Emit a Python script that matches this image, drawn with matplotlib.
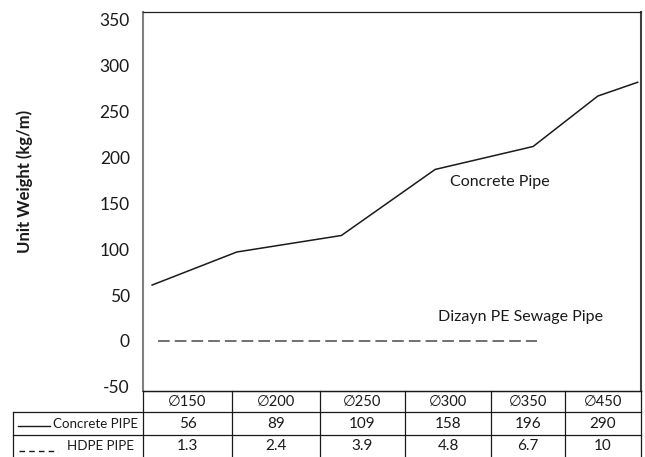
import matplotlib
matplotlib.use("Agg")
import matplotlib.pyplot as plt
from matplotlib.lines import Line2D

plt.rcParams['font.family'] = ['Lato', 'DejaVu Sans']

# ---- data ----
diameters = ["∅150", "∅200", "∅250", "∅300", "∅350", "∅450"]
concrete_table = ["56", "89", "109", "158", "196", "290"]
hdpe_table = ["1.3", "2.4", "3.9", "4.8", "6.7", "10"]
row_labels = ["Concrete PIPE", "HDPE PIPE"]

# plotted concrete curve (positions in column units, values in kg/m)
concrete_x = [0.11, 1.13, 2.39, 3.52, 4.70, 5.48, 5.96]
concrete_y = [61, 97, 115, 187, 212, 267, 282]
# plotted PE line
pe_x = [0.18, 4.75]
pe_y = [0, 0]

yticks = [-50, 0, 50, 100, 150, 200, 250, 300, 350]

W, H = 645, 457
fig = plt.figure(figsize=(W / 100, H / 100), dpi=100)

def fx(px):
    return px / W

def fy(py):
    return 1 - py / H

ax_l, ax_r, ax_t, ax_b = 143, 641, 12, 391
ax = fig.add_axes([fx(ax_l), fy(ax_b), (ax_r - ax_l) / W, (ax_b - ax_t) / H])
ax.set_xlim(0, 6)
ax.set_ylim(-54.5, 358.6)
ax.set_yticks(yticks)
ax.set_yticklabels([str(v) for v in yticks], fontsize=12.5, color='#1a1a1a')
ax.tick_params(axis='y', length=0, pad=9.5)
ax.set_xticks([])
ax.spines['left'].set_color('#808080')
ax.spines['left'].set_linewidth(1.5)
ax.spines['right'].set_color('#404040')
ax.spines['right'].set_linewidth(1.5)
ax.spines['top'].set_color('#202020')
ax.spines['top'].set_linewidth(0.9)
ax.spines['bottom'].set_color('#202020')
ax.spines['bottom'].set_linewidth(0.9)

ax.plot(concrete_x, concrete_y, color='#1a1a1a', lw=1.1)
ax.plot(pe_x, pe_y, color='#707070', lw=1.4, dashes=(6, 2.6))

ax.text(3.70, 173, "Concrete Pipe", fontsize=11.5, color='#1a1a1a', va='center', ha='left')
ax.text(3.55, 26, "Dizayn PE Sewage Pipe", fontsize=11.5, color='#1a1a1a', va='center', ha='left')

fig.text(fx(25), fy(181), "Unit Weight (kg/m)", rotation=90, fontsize=12,
         fontweight='bold', ha='center', va='center', color='#1a1a1a')

# ---- table (drawn on an overlay axes in pixel layout) ----
tax = fig.add_axes([0, 0, 1, 1])
tax.set_xlim(0, W)
tax.set_ylim(H, 0)
tax.axis('off')

col_edges = [143, 232, 320, 405, 491, 565, 641]
row_edges = [391, 412, 435, 457]
lab_left = 13
lc = '#1a1a1a'
lw = 0.9

# horizontal lines
tax.add_line(Line2D([col_edges[0], col_edges[-1]], [row_edges[0]] * 2, color=lc, lw=lw))
for r in row_edges[1:3]:
    tax.add_line(Line2D([lab_left, col_edges[-1]], [r, r], color=lc, lw=lw))
# vertical lines
for c in col_edges:
    tax.add_line(Line2D([c, c], [row_edges[0], H], color=lc, lw=lw))
tax.add_line(Line2D([lab_left, lab_left], [row_edges[1], H], color=lc, lw=lw))

rows = [diameters, concrete_table, hdpe_table]
for ri, vals in enumerate(rows):
    yc = (row_edges[ri] + row_edges[ri + 1]) / 2
    for ci, v in enumerate(vals):
        xc = (col_edges[ci] + col_edges[ci + 1]) / 2
        tax.text(xc, yc, v, fontsize=11 if ri else 10.5, ha='center', va='center', color=lc)

# row labels with line samples
y1 = (row_edges[1] + row_edges[2]) / 2
y2 = (row_edges[2] + row_edges[3]) / 2
tax.add_line(Line2D([18, 50], [y1 + 2, y1 + 2], color=lc, lw=1.0))
tax.text(138, y1, row_labels[0], fontsize=9.6, ha='right', va='center', color=lc)
tax.add_line(Line2D([19, 58], [y2 + 5, y2 + 5], color=lc, lw=1.0, dashes=(4, 3)))
tax.text(134, y2, row_labels[1], fontsize=9.6, ha='right', va='center', color=lc)

fig.savefig("out.png", dpi=100)
